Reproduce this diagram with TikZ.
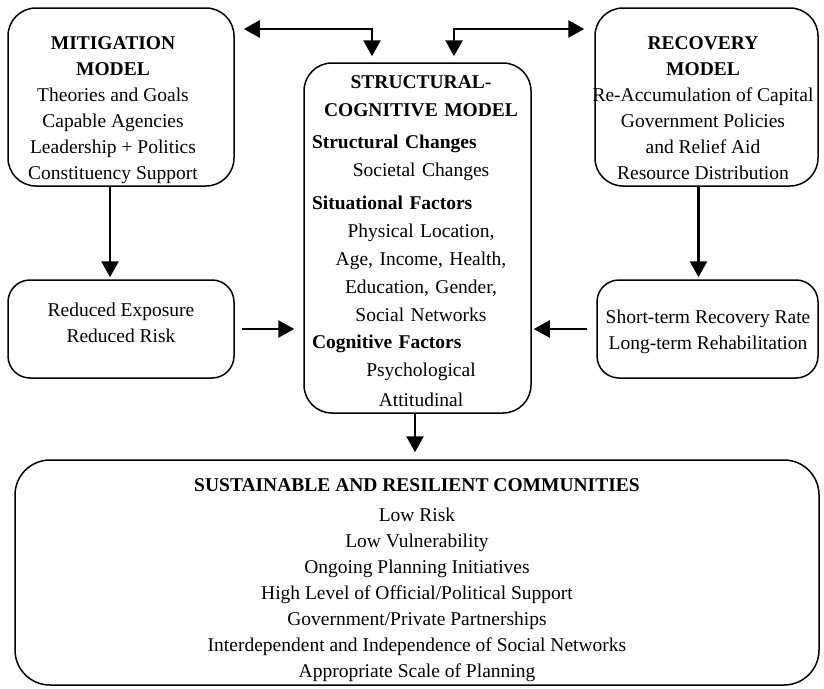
\documentclass[tikz,border=0pt]{standalone}
\usepackage{fontspec}
\setmainfont{Liberation Serif}
\usetikzlibrary{arrows.meta}

\tikzset{
  modelbox/.style={draw, line width=1.5pt, inner sep=0pt, rounded corners=28pt},
  body/.style={font=\fontsize{19.5}{26}\selectfont, align=center, inner sep=0pt, anchor=north},
  flow/.style={line width=2.6pt, -{Triangle[length=16pt,width=17pt]}},
  twoway/.style={line width=2.6pt, {Triangle[length=16pt,width=17pt]}-{Triangle[length=16pt,width=17pt]}}
}

\begin{document}
\begin{tikzpicture}[x=1pt,y=-1pt]
\useasboundingbox (0,0) rectangle (824,688);

% boxes
\node[modelbox, minimum width=226pt, minimum height=178pt] (mitbox) at (121,97) {};
\node[modelbox, minimum width=223pt, minimum height=178pt] (recbox) at (706.5,97) {};
\node[modelbox, rounded corners=22pt, minimum width=226pt, minimum height=98pt] (redbox) at (121,329) {};
\node[modelbox, rounded corners=22pt, minimum width=221pt, minimum height=98pt] (srtbox) at (707.5,329) {};
\node[modelbox, minimum width=227pt, minimum height=350pt] (scbox) at (417.5,238) {};
\node[modelbox, rounded corners=35pt, minimum width=804pt, minimum height=225pt] (sustbox) at (417,572.5) {};

% texts
\node[body] (mittext) at (113,36) {\textbf{MITIGATION}\\\textbf{MODEL}\\Theories and Goals\\Capable Agencies\\Leadership + Politics\\Constituency Support};
\node[body] (rectext) at (703,36) {\textbf{RECOVERY}\\\textbf{MODEL}\\Re-Accumulation of Capital\\Government Policies\\and Relief Aid\\Resource Distribution};
\node[body] (redtext) at (121,303) {Reduced Exposure\\Reduced Risk};
\node[body] (srttext) at (708,310) {Short-term Recovery Rate\\Long-term Rehabilitation};
\node[body, font=\fontsize{19.5}{28}\selectfont, text width=218pt] (sctext) at (421,75) {%
  \textbf{STRUCTURAL-}\\\textbf{COGNITIVE MODEL}\\[4pt]
  \makebox[\linewidth][l]{\textbf{Structural Changes}}\\
  Societal Changes\\[5pt]
  \makebox[\linewidth][l]{\textbf{Situational Factors}}\\
  Physical Location,\\Age, Income, Health,\\Education, Gender,\\Social Networks\\[-1pt]
  \makebox[\linewidth][l]{\textbf{Cognitive Factors}}\\
  Psychological\\[2pt]
  Attitudinal};
\node[body] (susttext) at (417,478) {\textbf{SUSTAINABLE AND RESILIENT COMMUNITIES}\\[4pt]
  Low Risk\\Low Vulnerability\\Ongoing Planning Initiatives\\High Level of Official/Political Support\\
  Government/Private Partnerships\\Interdependent and Independence of Social Networks\\
  Appropriate Scale of Planning};

% connectors
\coordinate (topline) at (0,29);
\draw[twoway] ([xshift=-45.5pt,yshift=6pt]scbox.north) |- ([xshift=9pt]mitbox.east |- topline);
\draw[twoway] ([xshift=36.5pt,yshift=6pt]scbox.north) |- ([xshift=-10pt]recbox.west |- topline);
\draw[flow, shorten >=2pt] ([xshift=-11pt]mitbox.south) -- ([xshift=-11pt]mitbox.south |- redbox.north);
\draw[flow, shorten >=2pt] ([xshift=-8pt]recbox.south) -- ([xshift=-8pt]recbox.south |- srtbox.north);
\draw[flow, shorten <=7pt, shorten >=9pt] (redbox.east) -- (redbox.east -| scbox.west);
\draw[flow, shorten <=9pt, shorten >=2pt] (srtbox.west) -- (srtbox.west -| scbox.east);
\draw[flow, shorten >=7pt] ([xshift=-2.5pt]scbox.south) -- ([xshift=-2.5pt]scbox.south |- sustbox.north);
\end{tikzpicture}
\end{document}
